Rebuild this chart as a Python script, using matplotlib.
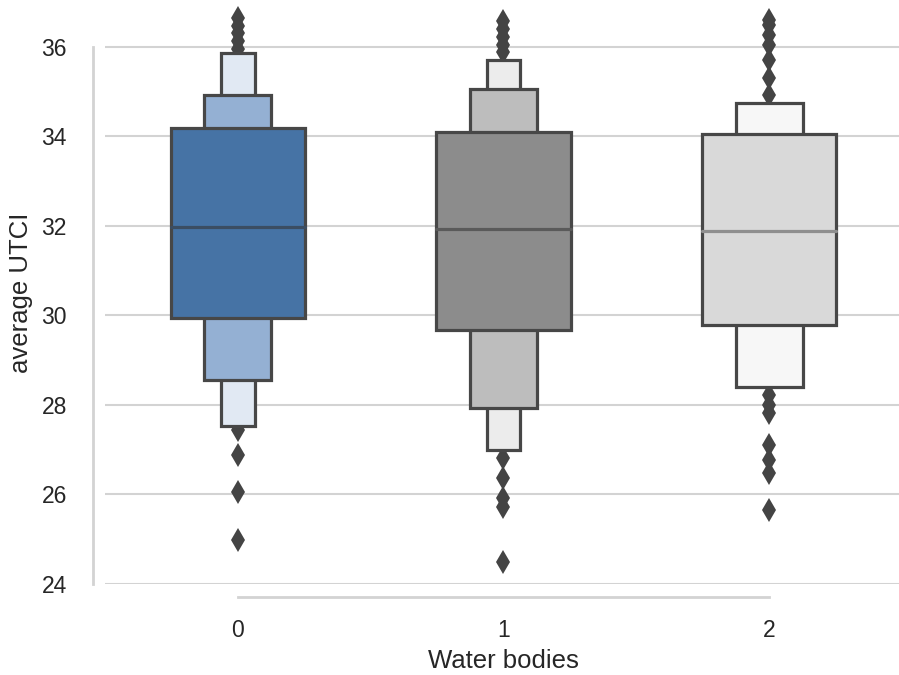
import matplotlib
matplotlib.use("Agg")
import matplotlib.pyplot as plt
import seaborn as sns

categories = [0, 1, 2]

# letter values per category, innermost (IQR) first: (low, high)
levels = {
    0: [(29.94, 34.19), (28.56, 34.93), (27.53, 35.87)],
    1: [(29.68, 34.10), (27.93, 35.06), (26.99, 35.71)],
    2: [(29.79, 34.06), (28.40, 34.75)],
}
medians = [31.98, 31.93, 31.89]

outliers = {
    0: [36.65, 36.47, 36.30, 36.12, 35.96, 27.45, 26.88, 26.06, 24.98],
    1: [36.58, 36.40, 36.22, 36.04, 35.89, 26.82, 26.37, 25.92, 25.72, 24.49],
    2: [36.60, 36.49, 36.27, 36.04, 35.71, 35.31, 34.93,
        28.22, 28.00, 27.82, 27.11, 26.77, 26.48, 25.65],
}

level_colors = {
    0: ["#4673a5", "#94b0d3", "#e1e9f3"],
    1: ["#8c8c8c", "#bdbdbd", "#ececec"],
    2: ["#d9d9d9", "#f7f7f7"],
}
median_colors = ["#3b4d62", "#5a5a5a", "#8f8f8f"]

sns.set_theme(style="whitegrid")
plt.rcParams['font.family'] = ['Liberation Sans', 'DejaVu Sans']

fig = plt.figure(figsize=(8.99, 6.75), dpi=100)
ax = fig.add_axes([105 / 899, 1 - 584 / 675, 797 / 899, 582 / 675])

edge = "#474747"
widths = [0.505, 0.252, 0.126]
for c in categories:
    lv = levels[c]
    # draw narrowest (extreme) levels first so wider ones sit on top
    for k in range(len(lv) - 1, -1, -1):
        lo, hi = lv[k]
        ax.bar(c, hi - lo, bottom=lo, width=widths[k], color=level_colors[c][k],
               edgecolor=edge, linewidth=2.3, zorder=2 + (3 - k) * 0.1)
    w = widths[0]
    ax.plot([c - w / 2, c + w / 2], [medians[c], medians[c]],
            color=median_colors[c], linewidth=2.3, zorder=3)
    ax.plot([c] * len(outliers[c]), outliers[c], linestyle="none", marker="d",
            markersize=12, color="#444444", markeredgewidth=0, zorder=1.5)

ax.set_xlim(-0.5, 2.5)
ax.set_ylim(24, 37)
ax.set_xticks(categories)
ax.set_xticklabels([str(c) for c in categories])
ax.set_yticks([24, 26, 28, 30, 32, 34, 36])
ax.xaxis.grid(False)
ax.yaxis.grid(True, color="#d3d3d3", linewidth=1.5)
ax.set_axisbelow(True)
ax.tick_params(axis="both", labelsize=16.5, colors="#262626")
ax.tick_params(axis="y", pad=12.5)
ax.tick_params(axis="x", pad=10)
ax.set_xlabel("Water bodies", fontsize=18.5, color="#262626", labelpad=5)
ax.set_ylabel("average UTCI", fontsize=18.5, color="#262626", labelpad=6)

sns.despine(ax=ax, offset=9, trim=True)
for s in ["left", "bottom"]:
    ax.spines[s].set_color("#d3d3d3")
    ax.spines[s].set_linewidth(2)

fig.savefig("out.png", dpi=100)
